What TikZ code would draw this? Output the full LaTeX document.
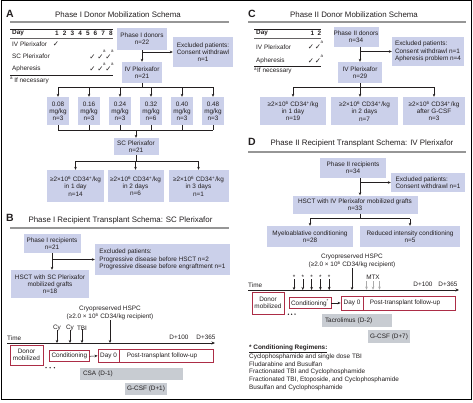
\documentclass[tikz,border=0pt]{standalone}
\usepackage{fontspec}
\setmainfont{Liberation Sans}
\newfontfamily\djf{DejaVu Sans}
\usetikzlibrary{arrows.meta,calc}
\definecolor{boxc}{RGB}{203,208,234}
\definecolor{barc}{RGB}{200,204,210}
\definecolor{redc}{RGB}{172,45,70}
\definecolor{txt}{RGB}{35,31,32}
\definecolor{tlc}{RGB}{150,150,150}
\newcommand\fb{\fontsize{6.4}{7.2}\selectfont}
\newcommand\ftt{\fontsize{7.9}{9}\selectfont}
\newcommand\flet{\fontsize{10.5}{12}\selectfont\bfseries}
\tikzset{
 bx/.style={fill=boxc, inner sep=0pt, align=center, font=\fb, text=txt},
 bxl/.style={fill=boxc, inner sep=0pt, align=left, font=\fb, text=txt},
 rbx/.style={draw=redc, line width=0.8pt, fill=white, inner sep=0pt, align=center, font=\fb, text=txt},
 gbar/.style={fill=barc, inner sep=0pt, align=center, font=\fb, text=txt},
 lbl/.style={inner sep=0pt, font=\fb, text=txt},
 ttl/.style={inner sep=0pt, font=\ftt, text=txt},
 letr/.style={inner sep=0pt, font=\flet, text=txt},
 ckm/.style={inner sep=0pt, font=\djf\fontsize{7.4}{8}\selectfont, text=txt},
 supa/.style={inner sep=0pt, font=\fontsize{4.4}{5}\selectfont, text=txt},
 arr/.style={draw=txt, -{Stealth[length=3pt,width=2.6pt]}, line width=0.5pt},
 garr/.style={draw=tlc!80, -{Stealth[length=3pt,width=2.6pt]}, line width=0.5pt},
 ln/.style={draw=txt, line width=0.5pt},
 tline/.style={draw=tlc, line width=1.6pt},
 tk/.style={draw=txt, line width=0.8pt},
 tn/.style={draw=txt!70, line width=0.4pt},
 tax/.style={draw=txt, -{Stealth[length=3.5pt,width=3pt]}, line width=0.7pt},
}
\begin{document}
\begin{tikzpicture}[x=1pt,y=-1pt]
\useasboundingbox (0,0) rectangle (473,402);
\draw[line width=0.9pt] (1.5,0.8) rectangle (471.5,399.2);

%================ Panel A
\node[letr] (lA) at (10,13.5) {A};
\node[ttl] (tA) at (118,15) {Phase I Donor Mobilization Schema};
\draw[tline] (10,22) -- (229,22);
\draw[tk] (10,29) -- (113,29);
\draw[tn] (10,38) -- (113,38);
\draw[tk] (10,75) -- (113,75);
\node[lbl,anchor=west,font=\fb\bfseries] (dayA) at (12,33) {Day};
\foreach \i/\x in {1/57,2/64.7,3/72.4,4/80.1,5/87.8,6/95.5,7/103.2,8/110.9}
  \node[lbl,font=\fb\bfseries] (dA\i) at (\x,33) {\i};
\node[lbl,anchor=west] (rA1) at (12,44.3) {IV Plerixafor};
\node[lbl,anchor=west] (rA2) at (12,56.7) {SC Plerixafor};
\node[lbl,anchor=west] (rA3) at (12,69.3) {Apheresis};
\node[lbl,anchor=west] (fnA) at (10,80.7) {\textsuperscript{a}\,If necessary};
\node[ckm] (kA1) at (56,44.3) {✓};
\foreach \r/\y in {2/56.7,3/69.3}{
  \foreach \c/\x in {6/92.5,7/100.5,8/108.5}
    \node[ckm] (kA\r\c) at (\x,\y) {✓};
  \node[supa] (sA\r7) at (104.3,{\y-5}) {a};
  \node[supa] (sA\r8) at (112.3,{\y-5}) {a};
}
\node[bx,minimum width=50,minimum height=22] (donA) at (142,39) {Phase I donors\\n=22};
\node[bx,minimum width=60,minimum height=30] (excA) at (203,52) {Excluded patients:\\Consent withdrawl\\n=1};
\node[bx,minimum width=40,minimum height=21] (ivA) at (142,72.5) {IV Plerixafor\\n=21};
\draw[arr] (donA) -- (ivA);
\draw[arr] (donA.south |- excA.west) -- (excA.west);
\foreach \i/\x/\dd/\nn in {1/58/0.08/3,2/89/0.16/3,3/120/0.24/3,4/151/0.32/6,5/182/0.40/3,6/213/0.48/3}
  \node[bx,minimum width=22,minimum height=28] (dos\i) at (\x,111) {\dd\\mg/kg\\n=\nn};
\coordinate (jA1) at (142,87);
\draw[ln] (ivA.south) -- (jA1);
\draw[ln] (dos1.north |- jA1) -- (dos6.north |- jA1);
\foreach \i in {1,...,6} \draw[arr] (dos\i.north |- jA1) -- (dos\i.north);
\coordinate (jA2) at (136,130);
\foreach \i in {1,...,6} \draw[ln] (dos\i.south) -- (dos\i.south |- jA2);
\draw[ln] (dos1.south |- jA2) -- (dos6.south |- jA2);
\node[bx,minimum width=45,minimum height=17] (scA) at (136,146.5) {SC Plerixafor\\n=21};
\draw[arr] (jA2) -- (scA.north);
\node[bx,minimum width=57,minimum height=32] (resA1) at (75.5,186) {≥2×10\textsuperscript{6} CD34\textsuperscript{+}/kg\\in 1 day\\n=14};
\node[bx,minimum width=56,minimum height=32] (resA2) at (135.5,186) {≥2×10\textsuperscript{6} CD34\textsuperscript{+}/kg\\in 2 days\\n=6};
\node[bx,minimum width=60,minimum height=32] (resA3) at (198.5,186) {≥2×10\textsuperscript{6} CD34\textsuperscript{+}/kg\\in 3 days\\n=1};
\coordinate (jA3) at (136,161);
\draw[ln] (scA.south) -- (jA3);
\draw[ln] (resA1.north |- jA3) -- (resA3.north |- jA3);
\foreach \i in {1,2,3} \draw[arr] (resA\i.north |- jA3) -- (resA\i.north);

%================ Panel B
\node[letr] (lB) at (10,218) {B};
\node[ttl] (tB) at (120.5,220) {Phase I Recipient Transplant Schema: SC Plerixafor};
\draw[tline] (10,228) -- (229,228);
\node[bx,minimum width=57,minimum height=19] (recB) at (52,243.5) {Phase I recipients\\n=21};
\node[bxl,minimum width=135,minimum height=31] (excB) at (162.5,259.5) {Excluded patients:\\Progressive disease before HSCT n=2\\Progressive disease before engraftment n=1};
\node[bx,minimum width=78,minimum height=28] (hsB) at (50,284) {HSCT with SC Plerixafor\\mobilized grafts\\n=18};
\draw[arr] (recB.south) -- (recB.south |- hsB.north);
\draw[arr] (recB.south |- excB.west) -- (excB.west);
% timeline B
\coordinate (tB0) at (7,343);
\coordinate (tB1) at (215,343);
\draw[tax] (tB0) -- (tB1);
\node[lbl,anchor=west] (timeB) at (7,338) {Time};
\node[lbl] (d100B) at (179,337.5) {D+100};
\node[lbl] (d365B) at (206,337.5) {D+365};
\node[lbl,align=center,font=\fontsize{6.4}{8}\selectfont] (cryoB) at (110,313) {Cryopreserved HSPC\\(≥2.0 × 10\textsuperscript{6} CD34/kg recipient)};
\draw[arr] (cryoB.south) -- (cryoB.south |- tB0);
\node[lbl] (cy1) at (57,328) {Cy};
\node[lbl] (cy2) at (70,328) {Cy};
\node[lbl] (tbi) at (82,328) {TBI};
\foreach \n in {cy1,cy2,tbi} \draw[arr] ([yshift=1]\n.south) -- (\n.south |- tB0);
\node[rbx,minimum width=33,minimum height=20] (donB) at (26.5,355) {Donor\\mobilized};
\foreach \x in {46,50.2,54.4} \fill[txt] (\x,367.7) circle (0.75);
\node[rbx,minimum width=40,minimum height=11] (condB) at (69.3,356.3) {Conditioning};
\node[rbx,minimum width=21,minimum height=12.5] (day0B) at (108.5,355.8) {Day 0};
\node[rbx,minimum width=94,minimum height=12.5] (postB) at (166,355.8) {\hspace*{-8pt}Post-transplant follow-up};
\draw[arr] (condB.east) -- (day0B.west);
\node[gbar,text width=97pt,align=left,inner xsep=3pt,minimum height=12] (csaB) at (131.5,374) {CSA (D-1)};
\node[gbar,minimum width=42,minimum height=12] (gcB) at (146,389) {G-CSF (D+1)};

%================ Panel C
\node[letr] (lC) at (252,13.5) {C};
\node[ttl] (tC) at (354,15) {Phase II Donor Mobilization Schema};
\draw[tline] (248,22) -- (466,22);
\draw[tk] (254,29) -- (321,29);
\draw[tn] (254,38) -- (321,38);
\draw[tk] (254,66) -- (321,66);
\node[lbl,anchor=west,font=\fb\bfseries] (dayC) at (256,33) {Day};
\node[lbl,font=\fb\bfseries] (dC1) at (312.5,33) {1};
\node[lbl,font=\fb\bfseries] (dC2) at (319.5,33) {2};
\node[lbl,anchor=west] (rC1) at (256,47) {IV Plerixafor};
\node[lbl,anchor=west] (rC2) at (256,61) {Apheresis};
\node[lbl,anchor=west] (fnC) at (254,71) {\textsuperscript{a}If necessary};
\foreach \r/\y in {1/47,2/61}{
  \node[ckm] (kC\r1) at (311,\y) {✓};
  \node[ckm] (kC\r2) at (318,\y) {✓};
  \node[supa] (sC\r) at (321.8,{\y-5}) {a};
}
\coordinate (trC) at (360,0);
\node[bx,minimum width=45,minimum height=20] (donC) at (356,37) {Phase II donors\\n=34};
\node[bxl,minimum width=72,minimum height=29] (excC) at (428,51.5) {Excluded patients:\\Consent withdrawl n=1\\Apheresis problem n=4};
\node[bx,minimum width=44,minimum height=21] (ivC) at (360,72.5) {IV Plerixafor\\n=29};
\draw[arr] (donC.south -| trC) -- (ivC.north);
\draw[arr] (trC |- excC.west) -- (excC.west);
\node[bx,minimum width=66,minimum height=28] (resC1) at (293,111) {≥2×10\textsuperscript{6} CD34\textsuperscript{+}/kg\\in 1 day\\n=19};
\node[bx,minimum width=67,minimum height=28] (resC2) at (364.5,111) {≥2×10\textsuperscript{6} CD34\textsuperscript{+}/kg\\in 2 days\\n=7};
\node[bx,minimum width=62,minimum height=28] (resC3) at (434,111) {≥2×10\textsuperscript{6} CD34\textsuperscript{+}/kg\\after G-CSF\\n=3};
\coordinate (jC1) at (360,87);
\draw[ln] (ivC.south) -- (jC1);
\draw[ln] (resC1.north |- jC1) -- (resC3.north |- jC1);
\draw[arr] (resC1.north |- jC1) -- (resC1.north);
\draw[arr] (jC1) -- (jC1 |- resC2.north);
\draw[arr] (resC3.north |- jC1) -- (resC3.north);

%================ Panel D
\node[letr] (lD) at (252,141.5) {D};
\node[ttl] (tD) at (362,143) {Phase II Recipient Transplant Schema: IV Plerixafor};
\draw[tline] (248,152) -- (466,152);
\node[bx,minimum width=66,minimum height=20] (recD) at (353,168) {Phase II recipients\\n=34};
\node[bxl,minimum width=74,minimum height=19] (excD) at (428,182.5) {Excluded patients:\\Consent withdrawl n=1};
\node[bx,minimum width=125,minimum height=18] (hsD) at (355,204.5) {HSCT with IV Plerixafor mobilized grafts\\n=33};
\draw[arr] (recD.south -| trC) -- (hsD.north -| trC);
\draw[arr] (trC |- excD.west) -- (excD.west);
\node[bx,minimum width=86,minimum height=21] (myD) at (310,236.5) {Myeloablative conditioning\\n=28};
\node[bx,minimum width=100,minimum height=21] (riD) at (410,236.5) {Reduced intensity conditioning\\n=5};
\coordinate (jD1) at (360,218.5);
\draw[ln] (hsD.south -| jD1) -- (jD1);
\draw[ln] (myD.north |- jD1) -- (riD.north |- jD1);
\draw[arr] (myD.north |- jD1) -- (myD.north);
\draw[arr] (riD.north |- jD1) -- (riD.north);
% timeline D
\coordinate (tD0) at (248,290);
\coordinate (tD1) at (459,290);
\draw[tax] (tD0) -- (tD1);
\node[lbl,anchor=west] (timeD) at (248,285) {Time};
\node[lbl] (d100D) at (423,284.5) {D+100};
\node[lbl] (d365D) at (448,284.5) {D+365};
\node[lbl,align=center,font=\fontsize{6.4}{8}\selectfont] (cryoD) at (352,261) {Cryopreserved HSPC\\(≥2.0 × 10\textsuperscript{6} CD34/kg recipient)};
\draw[arr] (cryoD.south) -- (cryoD.south |- tD0);
\foreach \i/\x in {1/294,2/302.8,3/311.6,4/320.4,5/329.2}{
  \node[lbl] (stD\i) at (\x,277) {*};
  \draw[arr] (stD\i.south) -- (stD\i.south |- tD0);
}
\node[lbl] (mtx) at (373,277.5) {MTX};
\foreach \dx in {-6.5,0,6.5} \draw[garr] ($(mtx.south)+(\dx,1.5)$) -- +(0,8.3);
\node[rbx,minimum width=32,minimum height=22] (donD) at (268,303) {Donor\\mobilized};
\foreach \x in {288.3,291.7,295} \fill[txt] (\x,314.2) circle (0.75);
\node[rbx,minimum width=42,minimum height=11] (condD) at (310,303) {Conditioning\textsuperscript{*}};
\node[rbx,minimum width=22,minimum height=14] (day0D) at (352,303) {Day 0};
\node[rbx,minimum width=92,minimum height=14] (postD) at (409,303) {\hspace*{-8pt}Post-transplant follow-up};
\draw[arr] (condD.east) -- (day0D.west);
\node[gbar,text width=64pt,align=left,inner xsep=3pt,minimum height=13] (tacD) at (357,320.5) {Tacrolimus (D-2)};
\node[gbar,minimum width=42,minimum height=13] (gcD) at (389,336.5) {G-CSF (D+7)};
\node[lbl,anchor=north west,align=left,font=\fontsize{6.4}{7.9}\selectfont] (fnD) at (249,344.3)
 {\textbf{\underline{* Conditioning Regimens:}}\\
  Cyclophosphamide and single dose TBI\\
  Fludarabine and Busulfan\\
  Fractionated TBI and Cyclophosphamide\\
  Fractionated TBI, Etoposide, and Cyclophosphamide\\
  Busulfan and Cyclophosphamide};
\end{tikzpicture}
\end{document}
